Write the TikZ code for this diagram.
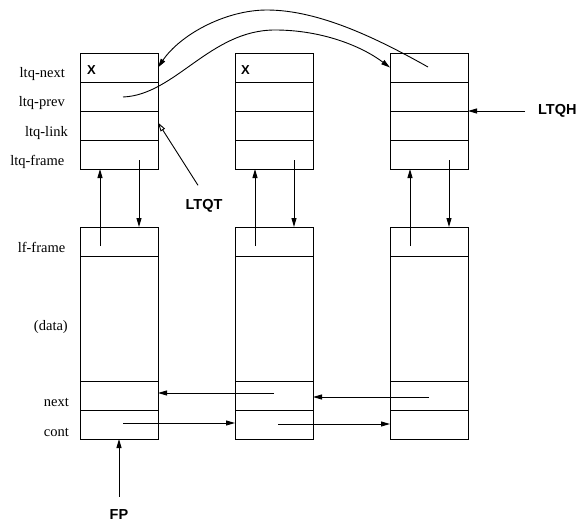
\documentclass[tikz,border=0pt]{standalone}
\usepackage{fontspec}
\setmainfont{Liberation Serif}
\newfontfamily\hv{Liberation Sans}
\usetikzlibrary{arrows.meta}
\begin{document}
\begin{tikzpicture}[x=1pt,y=-1pt,
 cell/.style={draw, line width=1pt, minimum width=78pt, inner sep=0pt, anchor=north west, outer sep=0pt},
 rowlab/.style={font=\fontsize{14.5}{17}\selectfont, anchor=base east, inner sep=0pt},
 biglab/.style={font=\hv\bfseries\fontsize{14.5}{17}\selectfont, inner sep=3pt},
 xlab/.style={font=\hv\bfseries\fontsize{13}{15}\selectfont, anchor=west, inner sep=0pt},
 arr/.style={line width=0.9pt, -{Triangle[length=9pt,width=5pt]}},
 openarr/.style={line width=0.9pt, -{Triangle[open,length=9pt,width=5pt]}},
]
\useasboundingbox (0,0) rectangle (579,525);

% boxes
\foreach \i/\x in {1/80,2/235,3/390} {
 \node[cell, minimum height=29pt] (n\i) at (\x,53) {};
 \node[cell, minimum height=29pt] (p\i) at (\x,82) {};
 \node[cell, minimum height=29pt] (l\i) at (\x,111) {};
 \node[cell, minimum height=29pt] (f\i) at (\x,140) {};
 \node[cell, minimum height=29pt] (lf\i) at (\x,227) {};
 \node[cell, minimum height=125pt] (d\i) at (\x,256) {};
 \node[cell, minimum height=29pt] (nx\i) at (\x,381) {};
 \node[cell, minimum height=29pt] (c\i) at (\x,410) {};
}

% row labels
\node[rowlab] (lbn) at (65,77) {ltq-next};
\node[rowlab] (lbp) at (65,106) {ltq-prev};
\node[rowlab] (lbl) at (68,136) {ltq-link};
\node[rowlab] (lbf) at (64.5,165) {ltq-frame};
\node[rowlab] (lblf) at (65.5,252) {lf-frame};
\node[rowlab] (lbd) at (68,330) {(data)};
\node[rowlab] (lbnx) at (69,406.5) {next};
\node[rowlab] (lbc) at (69,436) {cont};

% X marks
\node[xlab] (x1) at (87,70) {X};
\node[xlab] (x2) at (241,70) {X};

% vertical arrows
\foreach \i/\x in {1/80,2/235,3/390} {
 \coordinate (up\i) at (\x+20,246);
 \coordinate (dn\i) at (\x+59,160);
 \draw[arr] (up\i) -- (up\i |- f\i.south);
 \draw[arr] (dn\i) -- (dn\i |- lf\i.north);
}

% next / cont arrows
\coordinate (nxs2) at (274,393);
\draw[arr] (nxs2) -- (nxs2 -| nx1.east);
\coordinate (nxs3) at (429,397);
\draw[arr] (nxs3) -- (nxs3 -| nx2.east);
\coordinate (cs1) at (123,423);
\draw[arr] (cs1) -- (cs1 -| c2.west);
\coordinate (cs2) at (278,424);
\draw[arr] (cs2) -- (cs2 -| c3.west);

% top curves
\coordinate (s3) at (428,67);
\draw[arr] (s3) .. controls (380,40) and (320,10) .. (267,10) .. controls (225,10) and (180,35) .. (n1.east);
\coordinate (s1) at (123,97);
\draw[arr] (s1) .. controls (175,95) and (210,30) .. (275,30) .. controls (320,30) and (360,45) .. (n3.west);

% pointer labels
\node[biglab, anchor=west] (ltqh) at (535,111) {LTQH};
\draw[arr] ([xshift=-10pt]ltqh.west) -- (p3.south east);
\node[biglab] (ltqt) at (204,206) {LTQT};
\draw[openarr] ([xshift=-6pt,yshift=11pt]ltqt.north) -- ([yshift=3pt]l1.east);
\node[biglab] (fp) at (119,515) {FP};
\draw[arr] ([yshift=10pt]fp.north) -- (fp.north |- c1.south);
\end{tikzpicture}
\end{document}
